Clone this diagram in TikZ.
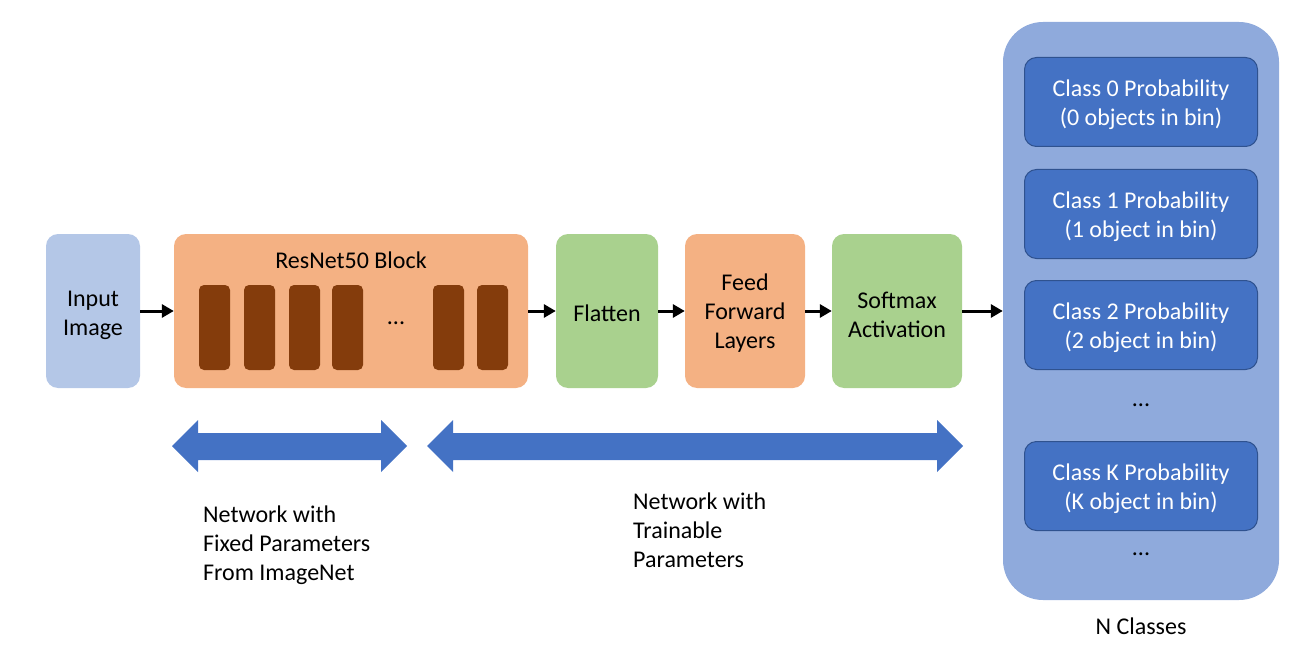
\documentclass[tikz,border=0pt]{standalone}
\usepackage{fontspec}
\setmainfont{Carlito}
\usetikzlibrary{arrows.meta}
\definecolor{lblue}{HTML}{B4C7E7}
\definecolor{orng}{HTML}{F4B183}
\definecolor{brwn}{HTML}{843C0C}
\definecolor{grn}{HTML}{A9D18E}
\definecolor{pnl}{HTML}{8FAADC}
\definecolor{dblue}{HTML}{4472C4}
\definecolor{bord}{HTML}{2F528F}
\tikzset{
  txt/.style={font=\fontsize{24}{29}\selectfont},
  box/.style={rounded corners=12pt, inner sep=0pt},
  btext/.style={label={[txt, align=center, yshift=-3pt, text=#1]center:}},
  bar/.style={fill=brwn, rounded corners=5pt},
  arr/.style={line width=3pt, -{Triangle[length=12pt,width=13pt]}},
  cls/.style={box, fill=dblue, draw=bord, line width=1pt, minimum width=233pt, minimum height=89pt},
  lbl/.style={txt, inner sep=0pt, align=left, anchor=north west},
  dbl/.style={fill=dblue}
}
\begin{document}
\begin{tikzpicture}[x=1pt,y=-1pt]
\useasboundingbox (0,0) rectangle (1296,658);
% main nodes
\node[box, fill=lblue, minimum width=94pt, minimum height=154pt,
  label={[txt, align=center, yshift=-4pt]center:Input\\Image}] (input) at (93,311) {};
\node[box, fill=orng, minimum width=354pt, minimum height=154pt] (resnet) at (351,311) {};
\node[txt, inner sep=0pt] (rtitle) at (351,260) {ResNet50 Block};
\foreach \x in {199,244,289,332,433,477}{
  \fill[bar] (\x,285) rectangle ++(31,85);
}
\node[txt, inner sep=0pt] (rdots) at (396,323) {...};
\node[box, fill=grn, minimum width=102pt, minimum height=154pt,
  label={[txt, align=center, yshift=-2pt]center:Flatten}] (flat) at (607,311) {};
\node[box, fill=orng, minimum width=120pt, minimum height=154pt,
  label={[txt, align=center, yshift=-2pt]center:Feed\\Forward\\Layers}] (ff) at (745,311) {};
\node[box, fill=grn, minimum width=130pt, minimum height=154pt,
  label={[txt, align=center, yshift=-4pt]center:Softmax\\Activation}] (soft) at (897,311) {};
% output panel
\node[fill=pnl, rounded corners=40pt, minimum width=276pt, minimum height=578pt, inner sep=0pt] (panel) at (1141,311) {};
\node[cls, label={[txt, align=center, yshift=-3pt, text=white]center:Class 0 Probability\\(0 objects in bin)}] (c0) at (1141,102) {};
\node[cls, label={[txt, align=center, yshift=-3pt, text=white]center:Class 1 Probability\\(1 object in bin)}] (c1) at (1141,214) {};
\node[cls, label={[txt, align=center, yshift=-3pt, text=white]center:Class 2 Probability\\(2 object in bin)}] (c2) at (1141,325) {};
\node[txt, inner sep=0pt] (pd1) at (1141,405) {...};
\node[cls, label={[txt, align=center, yshift=-3pt, text=white]center:Class K Probability\\(K object in bin)}] (ck) at (1141,486) {};
\node[txt, inner sep=0pt] (pd2) at (1141,554) {...};
\node[txt, inner sep=0pt] (ncl) at (1141,626) {N Classes};
% connectors
\draw[arr] (input) -- (resnet);
\draw[arr] (resnet) -- (flat);
\draw[arr] (flat) -- (ff);
\draw[arr] (ff) -- (soft);
\draw[arr] (soft.east) -- (soft.east -| panel.west);
% double arrows
\fill[dbl] (172,446) -- (198,420) -- (198,433) -- (381,433) -- (381,420) -- (407,446) -- (381,472) -- (381,460) -- (198,460) -- (198,472) -- cycle;
\fill[dbl] (427,446) -- (453,420) -- (453,433) -- (937,433) -- (937,420) -- (963,446) -- (937,472) -- (937,460) -- (453,460) -- (453,472) -- cycle;
% labels
\node[lbl] (fixed) at (203,506) {Network with\\Fixed Parameters\\From ImageNet};
\node[lbl] (train) at (633,493) {Network with\\Trainable\\Parameters};
\end{tikzpicture}
\end{document}
